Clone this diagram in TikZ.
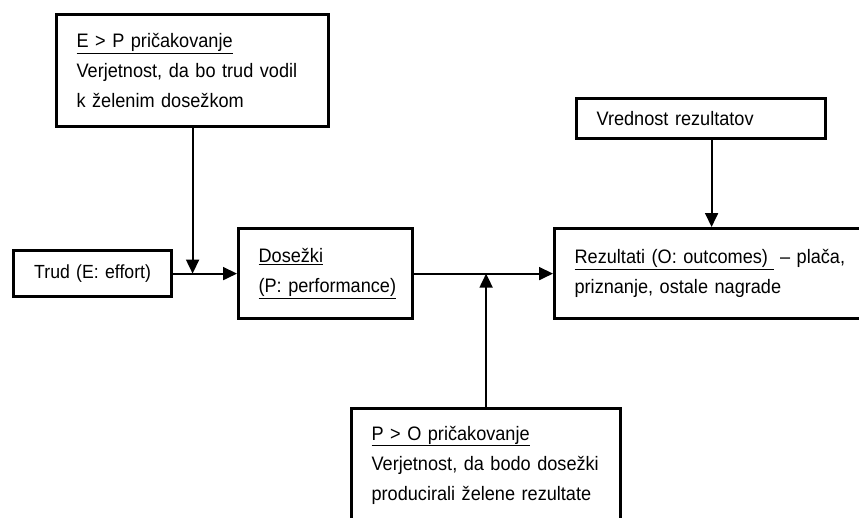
\documentclass[tikz,border=0pt]{standalone}
\usepackage{fontspec}
\setmainfont[FakeStretch=0.93]{Liberation Sans}
\usetikzlibrary{arrows.meta,positioning}

\newcommand{\ulin}[1]{\underline{#1}}

\begin{document}
\begin{tikzpicture}[x=1pt,y=-1pt,
    box/.style={draw,line width=3.2pt,rectangle,anchor=north west,inner xsep=20pt,inner ysep=0pt,
      align=left,font=\fontsize{19.5}{30}\selectfont},
    conn/.style={line width=1.8pt,-{Triangle[length=14pt,width=13pt]}}]
  \useasboundingbox (0,0) rectangle (859,517);
  \clip (0,0) rectangle (859,517);

  % E > P expectancy
  \node[box,text width=232pt,minimum height=112pt] (ep) at (55,13)
    {\ulin{E > P pričakovanje}\\
     \makebox[232pt][s]{Verjetnost, da bo trud vodil}\\
     k želenim dosežkom};

  % Effort
  \node[box,text width=118pt,align=center,minimum height=46pt,
    font=\fontsize{19}{30}\selectfont] (trud) at (12,249) {Trud (E: effort)};

  % Performance
  \node[box,text width=134pt,minimum height=90pt] (dos) at (237,227)
    {\ulin{Dosežki}\\ \ulin{(P: performance)}\\[-6pt]};

  % Outcomes
  \node[box,text width=274pt,minimum height=90pt] (rez) at (553,227)
    {\makebox[274pt][s]{\ulin{\makebox[199pt][s]{Rezultati (O: outcomes)}} – plača,}\\
     priznanje, ostale nagrade\\[-6pt]};

  % Valence
  \node[box,text width=209pt,minimum height=40pt] (vred) at (575,97) {Vrednost rezultatov};

  % P > O expectancy
  \node[box,text width=229pt,minimum height=113pt] (po) at (350,407)
    {\ulin{P > O pričakovanje}\\
     \makebox[229pt][s]{Verjetnost, da bodo dosežki}\\
     producirali želene rezultate};

  \draw[conn] (trud) -- (dos);
  \draw[conn] (ep.south) -- (ep.south |- trud.east);
  \draw[conn] (dos) -- (rez);
  \draw[conn] (po.north) -- (po.north |- dos.east);
  \draw[conn] (vred.south -| rez.north) -- (rez.north);
\end{tikzpicture}
\end{document}
